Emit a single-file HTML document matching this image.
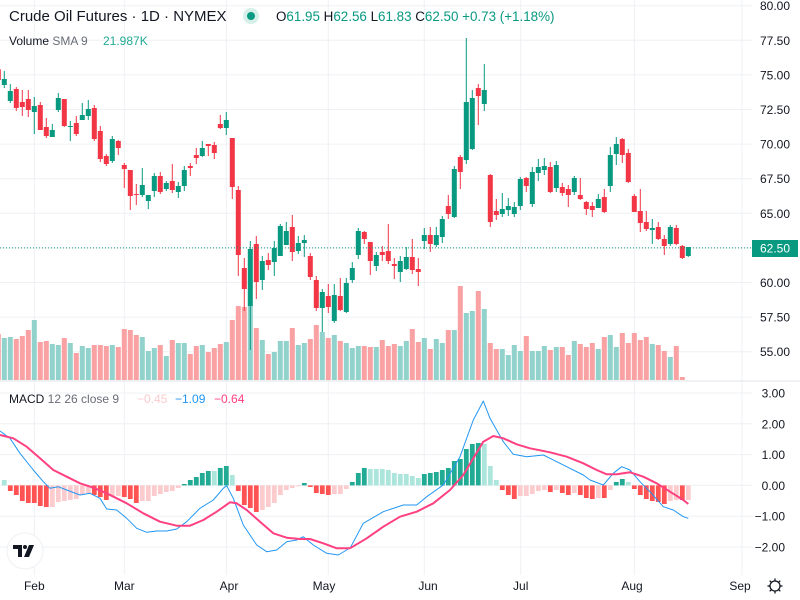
<!DOCTYPE html>
<html><head><meta charset="utf-8"><style>
html,body{margin:0;padding:0;background:#fff;width:800px;height:600px;overflow:hidden}
svg{display:block}
text{font-family:"Liberation Sans",sans-serif}
</style></head><body>
<svg id="s" width="800" height="600" xmlns="http://www.w3.org/2000/svg"></svg>
<script>
const S=document.getElementById('s');let h='';
const G='#089981',R='#f23645';
const hy=[5.7,40.3,74.9,109.5,144.1,178.7,213.3,247.9,282.5,317.1,351.7];
hy.forEach(y=>h+=`<line x1="0" x2="752" y1="${y}" y2="${y}" stroke="#eef0f4" stroke-width="1"/>`);
[393,423.8,454.6,485.4,516.2,547].forEach(y=>h+=`<line x1="0" x2="752" y1="${y}" y2="${y}" stroke="#eef0f4"/>`);
const vx=[34.3,124.3,226.3,328.3,424.3,520.7,634.3,742];
vx.forEach(x=>h+=`<line x1="${x}" x2="${x}" y1="0" y2="575" stroke="#eef0f4"/>`);
h+=`<line x1="0" x2="800" y1="381" y2="381" stroke="#e0e3eb"/>`;
const A=[[0,28,60,20,60],['g',57,75,33,84],['g',93,123,72,129],[0,87,144,81,153],[0,126,141,90,168],[0,117,150,90,171],['g',138,156,111,222],[0,135,210,126,210],[0,201,228,174,234],['g',210,231,192,231],['g',114,150,99,156],[0,117,198,117,201],['g',198,201,183,243],[0,189,222,168,228],['g',165,180,129,180],['g',147,168,120,180],[0,144,237,135,243],[0,213,297,198,306],[0,288,312,282,318],['g',237,303,228,309],[0,243,264,240,285],[0,315,327,309,384],[0,330,408,330,450],[0,402,405,372,435],['g',375,405,324,411],['g',405,423,405,447],['g',348,393,339,411],[0,348,396,336,402],['g',369,387,363,393],[0,363,390,312,399],['g',378,396,366,414],['g',330,378,318,393],[0,318,324,309,348],[0,285,294,264,312],['g',264,288,243,291],[0,252,258,252,288],[0,255,279,246,297],[0,192,204,165,207],['g',180,204,156,225],[0,234,381,234,417],[0,390,585,378,648],[0,624,687,594,753],['g',567,738,543,870],[0,552,666,528,717],['g',603,660,588,690],[0,600,615,579,630],['g',564,606,543,648],['g',498,588,492,588],['g',513,555,486,555],[0,501,576,465,603],['g',549,573,528,582],['g',540,549,525,591],[0,588,651,579,660],[0,660,744,648,753],['g',696,744,687,816],[0,708,741,672,759],['g',705,783,672,789],[0,708,750,654,753],['g',669,756,654,759],['g',624,660,606,669],['g',513,585,504,597]];
const B=[[0,606,627,603,642],[0,636,693,636,735],['g',675,708,666,723],[0,666,675,648,693],[0,663,693,582,702],[0,702,708,684,747],['g',693,726,678,756],['g',681,717,651,720],[0,681,720,627,732],[0,717,726,684,768],['g',615,633,594,657],[0,615,642,591,666],['g',615,645,591,651],['g',567,621,558,639],[0,528,552,495,567],['g',417,561,408,564],[0,381,426,375,477],['g',216,390,24,402],['g',204,357,180,360],[0,174,198,162,285],['g',180,222,102,243],[0,435,576,432,591],[0,543,555,507,570],['g',537,552,489,561],['g',528,540,504,558],['g',531,552,516,561],['g',447,528,441,540],[0,444,468,441,486],['g',426,522,411,531],['g',411,429,387,453],['g',408,420,384,435],[0,411,486,396,489],['g',405,474,393,486],[0,471,489,459,498],[0,477,495,465,531],['g',444,486,438,495],[0,495,507,444,510],[0,516,537,513,555],[0,528,540,516,561],['g',507,534,492,534],[0,501,546,477,549],['g',375,468,351,486],['g',342,372,321,405],[0,327,375,324,399],[0,369,456,357,459],[0,498,546,492,546],[0,543,579,477,606],[0,576,597,543,603],['g',594,600,567,642],[0,591,627,576,630],[0,627,648,615,675],['g',591,642,585,648],[0,594,642,585,645],[0,648,684,645,687],['g',651,678,651,681]];
const C=[];
A.forEach((a,i)=>C.push({g:a[0]=='g',v:a.slice(1).map(z=>60+z/3),x:-1.7+6*i}));
B.forEach((a,i)=>C.push({g:a[0]=='g',v:a.slice(1).map(z=>30+z/3),x:364.3+6*i}));
const V1=[822,834,831,837,828,810,780,846,843,852,855,834,849,879,858,864,855,855,858,855,861,807,810,825,831,873,864,855,888,840,849,849,882,858,855,876,864,852,846,780,738,741,738,804,840,882,876,843,843,804,855,849,837,795,816,834,825,843,849,864,858];
const V2=[960,948,951,951,930,948,942,948,933,897,936,924,957,927,939,900,900,768,849,843,783,837,939,957,957,975,945,963,918,963,963,948,960,951,951,975,933,942,951,939,957,921,915,951,909,939,909,930,921,942,945,963,981,948,1041];
C.forEach((c,i)=>{let t=i<61?60+V1[i]/3:30+V2[i-60]/3;
h+=`<rect x="${c.x-2.5}" y="${t}" width="5" height="${380-t}" fill="${c.g?'#92d2cc':'#faa1a4'}"/>`;});
C.forEach(c=>{const col=c.g?G:R;const [bt,bb,wt,wb]=c.v;
h+=`<line x1="${c.x}" x2="${c.x}" y1="${wt}" y2="${wb}" stroke="${col}" stroke-width="1"/>`;
h+=`<rect x="${c.x-2.5}" y="${bt}" width="5" height="${Math.max(1,bb-bt)}" fill="${col}"/>`;});
h+=`<line x1="0" x2="752" y1="247.9" y2="247.9" stroke="${G}" stroke-dasharray="1,2"/>`;
const H1=[[285,'lt'],[318,'r'],[330,'r'],[348,'r'],[354,'r'],[354,'r'],[363,'r'],[366,'r'],[366,'lr'],[351,'lr'],[348,'lr'],[345,'lr'],[342,'lr'],[330,'lr'],[324,'lr'],[330,'r'],[336,'r'],[345,'r'],[333,'lr'],[333,'lr'],[336,'r'],[342,'r'],[354,'r'],[348,'lr'],[348,'lr'],[333,'lr'],[327,'lr'],[321,'lr'],[318,'lr'],[309,'lr'],[297,'t'],[285,'t'],[276,'t'],[264,'t'],[258,'t'],[258,'lt'],[249,'t'],[243,'t'],[270,'lt'],[318,'r'],[360,'r'],[369,'r'],[381,'r'],[375,'lr'],[366,'lr'],[354,'lr'],[330,'lr'],[315,'lr'],[309,'lr'],[303,'lr'],[294,'t'],[306,'r'],[324,'r'],[327,'r'],[330,'r'],[327,'lr'],[327,'lr'],[312,'lr']];
const H2=[291,264,249,252,252,252,255,264,267,267,273,279,267,264,261,255,249,228,222,192,177,174,177,243,285,315,330,342,333,333,327,318,315,321,315,324,330,324,330,339,342,339,339,315,291,282,291,312,330,342,348,351,357,348,345,345,345];
const T2=['t','t','t','lt','lt','lt','lt','lt','lt','lt','lt','lt','t','t','t','t','t','t','t','t','t','t','lt','lt','lt','r','r','r','lr','lr','lr','lr','lr','r','lr','r','r','lr','r','r','r','lr','r','lr','t','t','lt','r','r','r','r','r','r','lr','lr','r','lr'];
const col={t:'#22ab94',lt:'#ace5dc',r:'#ff5252',lr:'#fccbcd'};
function bar(x,zy,c){const y=385+zy/3,z=485.4;const t=Math.min(y,z),hh=Math.max(1,Math.abs(y-z));h+=`<rect x="${x-2.4}" y="${t}" width="4.8" height="${hh}" fill="${col[c]}"/>`;}
H1.forEach((b,i)=>bar(4.3+6*i,b[0],b[1]));
H2.forEach((b,i)=>bar(352.3+6*i,b,T2[i]));
function pl(a,ox,stroke,w){return `<polyline fill="none" stroke="${stroke}" stroke-width="${w}" stroke-linejoin="round" points="${a.map(p=>(ox+p[0]/3).toFixed(1)+','+(385+p[1]/3).toFixed(1)).join(' ')}"/>`;}
const b1=[[0,138],[30,160],[60,205],[100,255],[130,290],[150,310],[175,305],[200,315],[240,330],[270,325],[300,340],[320,372],[350,375],[380,400],[410,430],[440,442],[470,438],[500,438],[530,432],[560,410],[600,370],[640,345],[670,310],[680,302],[700,340],[730,420],[770,480],[800,500],[830,495],[860,470],[890,465],[910,455],[940,480],[980,505],[1015,510],[1035,498],[1050,488]];
const b2=[[0,490],[40,415],[100,380],[160,360],[200,360],[230,335],[280,300],[330,215],[370,105],[400,48],[420,100],[460,170],[490,208],[530,215],[580,210],[600,220],[650,245],[700,270],[720,285],[760,300],[790,265],[815,245],[840,255],[870,290],[900,320],[940,365],[970,375],[1000,395],[1015,400]];
const s1=[[0,150],[40,160],[80,185],[120,220],[160,255],[200,275],[240,295],[280,308],[320,325],[380,355],[430,385],[480,410],[530,422],[570,422],[610,405],[650,380],[690,352],[710,355],[740,375],[780,410],[820,445],[860,458],[900,462],[930,462],[970,475],[1010,490],[1050,490]];
const s2=[[0,490],[50,460],[100,425],[150,395],[200,380],[250,355],[300,315],[340,270],[370,220],[400,170],[430,153],[460,160],[500,178],[540,190],[600,202],[650,215],[700,235],[740,255],[770,268],[800,268],[840,262],[880,275],[920,295],[960,320],[1000,345],[1015,357]];
h+=pl(b1,0,'#2196f3',1)+pl(b2,350,'#2196f3',1)+pl(s1,0,'#ff4081',2)+pl(s2,350,'#ff4081',2);
const pl2=['80.00','77.50','75.00','72.50','70.00','67.50','65.00',null,'60.00','57.50','55.00'];
pl2.forEach((t,i)=>{if(t)h+=`<text x="790" y="${hy[i]+4.5}" font-size="12" fill="#131722" text-anchor="end">${t}</text>`});
h+=`<rect x="752" y="240" width="46" height="17" fill="${G}"/><text x="790" y="252.5" font-size="12" fill="#fff" text-anchor="end">62.50</text>`;
['3.00','2.00','1.00','0.00','−1.00','−2.00'].forEach((t,i)=>h+=`<text x="785" y="${393+30.8*i+4.5}" font-size="12" fill="#131722" text-anchor="end">${t}</text>`);
[['Feb',34.3],['Mar',124.3],['Apr',229],['May',324],['Jun',428],['Jul',520.7],['Aug',632],['Sep',740]].forEach(m=>h+=`<text x="${m[1]}" y="590" font-size="12" fill="#131722" text-anchor="middle">${m[0]}</text>`);
h+=`<circle cx="775" cy="586" r="5" fill="none" stroke="#131722" stroke-width="1.3"/>`;
for(let a=0;a<8;a++){const r=a*Math.PI/4;h+=`<line x1="${775+5*Math.cos(r)}" y1="${586+5*Math.sin(r)}" x2="${775+7.5*Math.cos(r)}" y2="${586+7.5*Math.sin(r)}" stroke="#131722" stroke-width="1.3"/>`;}
h+=`<text x="9" y="21" font-size="15" fill="#131722">Crude Oil Futures · 1D · NYMEX</text>`;
h+=`<circle cx="251" cy="16" r="8" fill="#d5efe9"/><circle cx="251" cy="16" r="4" fill="${G}"/>`;
h+=`<text x="276" y="21" font-size="13.4" fill="${G}"><tspan fill="#131722">O</tspan>61.95 <tspan fill="#131722">H</tspan>62.56 <tspan fill="#131722">L</tspan>61.83 <tspan fill="#131722">C</tspan>62.50 +0.73 (+1.18%)</text>`;
h+=`<text x="9" y="45" font-size="12" fill="#131722">Volume <tspan fill="#6a6d78">SMA 9</tspan></text><text x="103" y="45" font-size="12" fill="#22ab94">21.987K</text>`;
h+=`<text x="9" y="403" font-size="12" fill="#131722">MACD <tspan fill="#6a6d78">12 26 close 9</tspan></text>`;
h+=`<text x="137" y="403" font-size="12" fill="#fccbcd">−0.45</text><text x="175" y="403" font-size="12" fill="#2196f3">−1.09</text><text x="214" y="403" font-size="12" fill="#ff4081">−0.64</text>`;
h+=`<circle cx="25" cy="551" r="18" fill="#fff" stroke="#eef0f3"/><path d="M13 545h9v12h-4v-8h-5z" fill="#131722"/><circle cx="25" cy="547" r="2" fill="#131722"/><path d="M29 545h5l-5 12h-5z" fill="#131722"/>`;
S.innerHTML=h;
</script>
</body></html>
